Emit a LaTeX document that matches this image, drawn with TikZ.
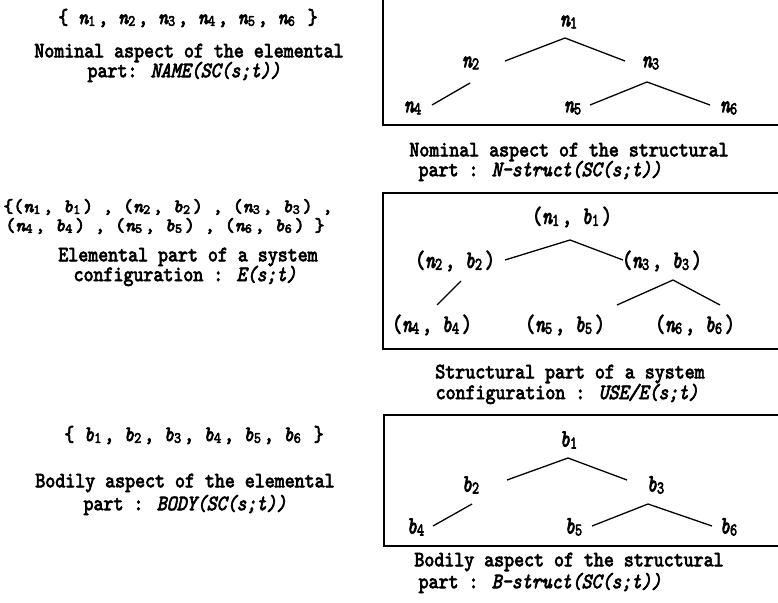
\documentclass[tikz,border=0pt]{standalone}
\usepackage{fontspec}
\newfontfamily\mono{lmmono10-regular.otf}[ItalicFont=lmmono10-italic.otf, FakeBold=3.5]
\usepackage{graphicx}
\newcommand\tx[1]{\scalebox{1}[1.15]{#1}}
\newcommand\ty[1]{\scalebox{1}[1.3]{#1}}
\newcommand\subvar[2]{#1\makebox[0.525em][l]{\raisebox{-0.08em}{\scalebox{0.72}{\upshape #2}}}}
\newcommand\nn[1]{\textit{\subvar{n}{#1}}}
\newcommand\bb[1]{\textit{\subvar{b}{#1}}}
\tikzset{
  txt/.style={inner sep=0pt, font=\mono\fontsize{19}{20}\selectfont},
  lbl/.style={inner sep=0pt, font=\mono\fontsize{19}{20}\selectfont},
  frame/.style={line width=1.4pt},
  edge/.style={line width=1.3pt}
}
\begin{document}
\begin{tikzpicture}[x=1pt,y=-1pt]
\useasboundingbox (0,0) rectangle (778,602);
\fill[white] (0,0) rectangle (778,602);
% ---------- left column ----------
\node[txt] (s1) at (188,18) {\tx{\{ \nn1, \nn2, \nn3, \nn4, \nn5, \nn6 \}}};
\node[txt] (c1a) at (189,53) {\tx{Nominal aspect of the elemental}};
\node[txt] (c1b) at (184,72) {\tx{part: \textit{NAME(SC(s;t))}}};

\node[txt] (s2a) at (168,207) {\{(\nn1, \bb1) , (\nn2, \bb2) , (\nn3, \bb3) ,};
\node[txt] (s2b) at (165,226) {(\nn4, \bb4) , (\nn5, \bb5) , (\nn6, \bb6) \}};
\node[txt] (c2a) at (188,257) {\tx{Elemental part of a system}};
\node[txt] (c2b) at (185,276) {\tx{configuration : \textit{E(s;t)}}};

\node[txt] (s3) at (194,435) {\tx{\{ \bb1, \bb2, \bb3, \bb4, \bb5, \bb6 \}}};
\node[txt] (c3a) at (185,483) {\tx{Bodily aspect of the elemental}};
\node[txt] (c3b) at (185,505) {\tx{part : \textit{BODY(SC(s;t))}}};

% ---------- box 1 ----------
\draw[frame] (790,-5) -- (383,-5) -- (383,125) -- (790,125);
\node[lbl] (a1) at (570,22) {\ty{\nn1}};
\node[lbl] (a2) at (472,63) {\ty{\nn2}};
\node[lbl] (a3) at (652,63) {\ty{\nn3}};
\node[lbl] (a4) at (414,108) {\ty{\nn4}};
\node[lbl] (a5) at (574,108) {\ty{\nn5}};
\node[lbl] (a6) at (730,108) {\ty{\nn6}};
\coordinate (p1) at (565,38);
\coordinate (p2r) at (505,61);
\coordinate (p3l) at (625,61);
\coordinate (p2) at (470,83);
\coordinate (p4) at (432,105);
\coordinate (p3) at (647,82);
\coordinate (p5) at (590,105);
\coordinate (p6) at (710,105);
\draw[edge] (p2r) -- (p1) -- (p3l);
\draw[edge] (p2) -- (p4);
\draw[edge] (p5) -- (p3) -- (p6);
\node[txt] (d1a) at (569,152) {\tx{Nominal aspect of the structural}};
\node[txt] (d1b) at (540,171) {\tx{part : \textit{N-struct(SC(s;t))}}};

% ---------- box 2 ----------
\draw[frame] (790,193) -- (383,193) -- (383,349) -- (790,349);
\node[lbl] (e1) at (572,217) {\ty{(\nn1, \bb1)}};
\node[lbl] (e2) at (455,261) {\ty{(\nn2, \bb2)}};
\node[lbl] (e3) at (662,261) {\ty{(\nn3, \bb3)}};
\node[lbl] (e4) at (432,325) {\ty{(\nn4, \bb4)}};
\node[lbl] (e5) at (565,325) {\ty{(\nn5, \bb5)}};
\node[lbl] (e6) at (695,325) {\ty{(\nn6, \bb6)}};
\coordinate (q1) at (570,240);
\coordinate (q2r) at (505,260);
\coordinate (q3l) at (623,260);
\coordinate (q2) at (461,281);
\coordinate (q4) at (437,305);
\coordinate (q3) at (673,280);
\coordinate (q5) at (617,305);
\coordinate (q6) at (720,305);
\draw[edge] (q2r) -- (q1) -- (q3l);
\draw[edge] (q2) -- (q4);
\draw[edge] (q5) -- (q3) -- (q6);
\node[txt] (d2a) at (570,374) {\tx{Structural part of a system}};
\node[txt] (d2b) at (567,394) {\tx{configuration : \textit{USE/E(s;t)}}};

% ---------- box 3 ----------
\draw[frame] (790,415) -- (384,415) -- (384,546) -- (790,546);
\node[lbl] (f1) at (570,440) {\ty{\bb1}};
\node[lbl] (f2) at (472,485) {\ty{\bb2}};
\node[lbl] (f3) at (657,485) {\ty{\bb3}};
\node[lbl] (f4) at (417,527) {\ty{\bb4}};
\node[lbl] (f5) at (575,527) {\ty{\bb5}};
\node[lbl] (f6) at (730,527) {\ty{\bb6}};
\coordinate (r1) at (568,458);
\coordinate (r2r) at (507,480);
\coordinate (r3l) at (627,480);
\coordinate (r2) at (472,504);
\coordinate (r4) at (433,526);
\coordinate (r3) at (648,504);
\coordinate (r5) at (592,526);
\coordinate (r6) at (712,526);
\draw[edge] (r2r) -- (r1) -- (r3l);
\draw[edge] (r2) -- (r4);
\draw[edge] (r5) -- (r3) -- (r6);
\node[txt] (d3a) at (569,562) {\tx{Bodily aspect of the structural}};
\node[txt] (d3b) at (540,583) {\tx{part : \textit{B-struct(SC(s;t))}}};
\end{tikzpicture}
\end{document}
